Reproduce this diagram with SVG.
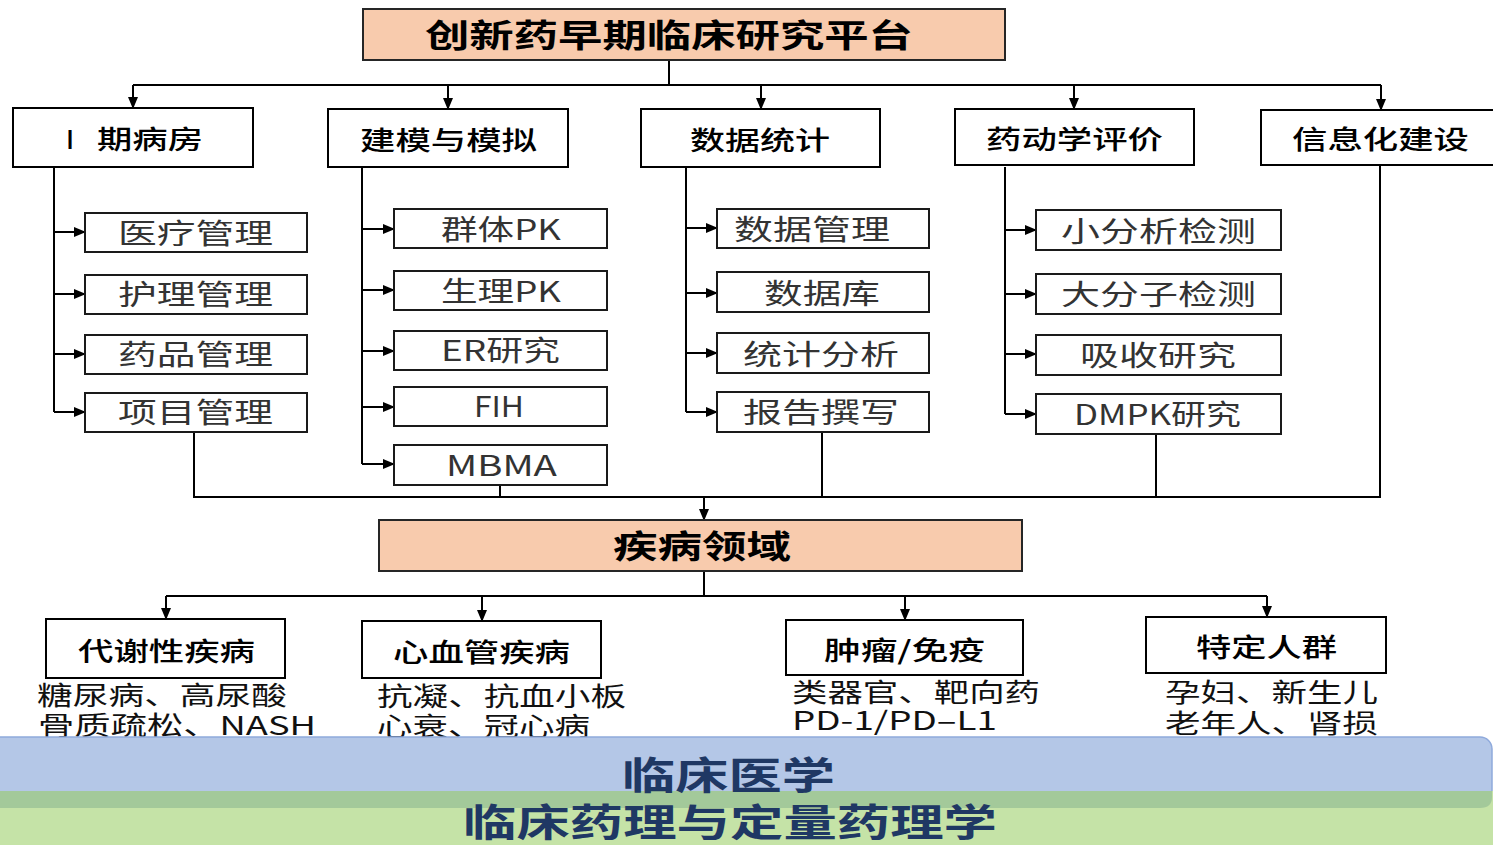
<svg xmlns="http://www.w3.org/2000/svg" width="1493" height="845" viewBox="0 0 1493 845">
<style>
  .peach{fill:#f8cbad;stroke:#262626;stroke-width:2}
  .box{fill:#fff;stroke:#000;stroke-width:2}
  .sub{fill:#fff;stroke:#1a1a1a;stroke-width:2}
  .conn{fill:none;stroke:#000;stroke-width:2}
  .arr{fill:none;stroke:#000;stroke-width:2;marker-end:url(#ah)}
  text{font-family:"Noto Sans CJK SC","Noto Sans",sans-serif;}
  .tb{font-weight:bold;font-size:32px;fill:#000}
  .t1{font-weight:500;font-size:26px;fill:#000}
  .ts{font-weight:400;font-size:28px;fill:#333}
  .td{font-weight:400;font-size:26px;fill:#111}
  .band{font-weight:bold;font-size:38px;fill:#1f3864}
</style>
<defs>
  <marker id="ah" markerUnits="userSpaceOnUse" markerWidth="12" markerHeight="12" viewBox="0 0 12 12" refX="11" refY="6" orient="auto">
    <path d="M0,1 L12,6 L0,11 Z" fill="#000"/>
  </marker>
</defs>

<g id="connectors">
  <path class="conn" d="M669,60 V85 M133,85 H1381"/>
  <path class="arr" d="M133,85 V108"/>
  <path class="arr" d="M448,85 V109"/>
  <path class="arr" d="M761,85 V109"/>
  <path class="arr" d="M1074,85 V109"/>
  <path class="arr" d="M1381,85 V110"/>

  <path class="conn" d="M54,167 V412"/>
  <path class="arr" d="M54,232 H85"/>
  <path class="arr" d="M54,294 H85"/>
  <path class="arr" d="M54,354 H85"/>
  <path class="arr" d="M54,412 H85"/>

  <path class="conn" d="M362,167 V464"/>
  <path class="arr" d="M362,229 H394"/>
  <path class="arr" d="M362,290 H394"/>
  <path class="arr" d="M362,351 H394"/>
  <path class="arr" d="M362,407 H394"/>
  <path class="arr" d="M362,464 H394"/>

  <path class="conn" d="M686,167 V412"/>
  <path class="arr" d="M686,228 H717"/>
  <path class="arr" d="M686,293 H717"/>
  <path class="arr" d="M686,353 H717"/>
  <path class="arr" d="M686,412 H717"/>

  <path class="conn" d="M1005,167 V414"/>
  <path class="arr" d="M1005,230 H1036"/>
  <path class="arr" d="M1005,294 H1036"/>
  <path class="arr" d="M1005,354 H1036"/>
  <path class="arr" d="M1005,414 H1036"/>

  <path class="conn" d="M1380,165 V497 H194 V432 M500,485 V497 M822,432 V497 M1156,434 V497"/>
  <path class="arr" d="M704,497 V520"/>

  <path class="conn" d="M704,571 V596 M166,596 H1267"/>
  <path class="arr" d="M166,596 V619"/>
  <path class="arr" d="M482,596 V621"/>
  <path class="arr" d="M905,596 V620"/>
  <path class="arr" d="M1267,596 V617"/>
</g>

<g id="title">
  <rect class="peach" x="363" y="9" width="642" height="51"/>
  <text class="tb" x="425" y="47" textLength="488" lengthAdjust="spacingAndGlyphs">创新药早期临床研究平台</text>
</g>

<g id="n-ward">
  <rect class="box" x="13" y="108" width="240" height="59"/>
  <text class="t1" y="149"><tspan x="66">I</tspan><tspan x="97" textLength="106" lengthAdjust="spacingAndGlyphs">期病房</tspan></text>
</g>
<g id="n-model">
  <rect class="box" x="328" y="109" width="240" height="58"/>
  <text class="t1" x="360" y="150" textLength="177" lengthAdjust="spacingAndGlyphs">建模与模拟</text>
</g>
<g id="n-stat">
  <rect class="box" x="641" y="109" width="239" height="58"/>
  <text class="t1" x="690" y="150" textLength="140" lengthAdjust="spacingAndGlyphs">数据统计</text>
</g>
<g id="n-pk">
  <rect class="box" x="955" y="109" width="239" height="56"/>
  <text class="t1" x="986" y="149" textLength="177" lengthAdjust="spacingAndGlyphs">药动学评价</text>
</g>
<g id="n-info">
  <rect class="box" x="1261" y="110" width="240" height="55"/>
  <text class="t1" x="1292" y="149" textLength="177" lengthAdjust="spacingAndGlyphs">信息化建设</text>
</g>

<g id="s-med"><rect class="sub" x="85" y="213" width="222" height="39"/><text class="ts" x="118" y="244" textLength="155" lengthAdjust="spacingAndGlyphs">医疗管理</text></g>
<g id="s-nurse"><rect class="sub" x="85" y="275" width="222" height="39"/><text class="ts" x="118" y="305" textLength="155" lengthAdjust="spacingAndGlyphs">护理管理</text></g>
<g id="s-drug"><rect class="sub" x="85" y="335" width="222" height="39"/><text class="ts" x="118" y="365" textLength="155" lengthAdjust="spacingAndGlyphs">药品管理</text></g>
<g id="s-proj"><rect class="sub" x="85" y="393" width="222" height="39"/><text class="ts" x="118" y="423" textLength="155" lengthAdjust="spacingAndGlyphs">项目管理</text></g>

<g id="s-poppk"><rect class="sub" x="394" y="209" width="213" height="39"/><text class="ts" x="441" y="240" textLength="120" lengthAdjust="spacingAndGlyphs">群体PK</text></g>
<g id="s-pbpk"><rect class="sub" x="394" y="271" width="213" height="39"/><text class="ts" x="441" y="302" textLength="120" lengthAdjust="spacingAndGlyphs">生理PK</text></g>
<g id="s-er"><rect class="sub" x="394" y="331" width="213" height="39"/><text class="ts" x="441" y="361" textLength="119" lengthAdjust="spacingAndGlyphs">ER研究</text></g>
<g id="s-fih"><rect class="sub" x="394" y="387" width="213" height="39"/><text class="ts" x="474" y="417" textLength="50" lengthAdjust="spacingAndGlyphs">FIH</text></g>
<g id="s-mbma"><rect class="sub" x="394" y="445" width="213" height="40"/><text class="ts" x="446" y="476" textLength="111" lengthAdjust="spacingAndGlyphs">MBMA</text></g>

<g id="s-dm"><rect class="sub" x="717" y="209" width="212" height="39"/><text class="ts" x="734" y="240" textLength="156" lengthAdjust="spacingAndGlyphs">数据管理</text></g>
<g id="s-db"><rect class="sub" x="717" y="272" width="212" height="40"/><text class="ts" x="764" y="304" textLength="116" lengthAdjust="spacingAndGlyphs">数据库</text></g>
<g id="s-sa"><rect class="sub" x="717" y="333" width="212" height="40"/><text class="ts" x="743" y="365" textLength="156" lengthAdjust="spacingAndGlyphs">统计分析</text></g>
<g id="s-rep"><rect class="sub" x="717" y="392" width="212" height="40"/><text class="ts" x="743" y="423" textLength="156" lengthAdjust="spacingAndGlyphs">报告撰写</text></g>

<g id="s-small"><rect class="sub" x="1036" y="210" width="245" height="40"/><text class="ts" x="1061" y="242" textLength="195" lengthAdjust="spacingAndGlyphs">小分析检测</text></g>
<g id="s-large"><rect class="sub" x="1036" y="274" width="245" height="40"/><text class="ts" x="1061" y="305" textLength="195" lengthAdjust="spacingAndGlyphs">大分子检测</text></g>
<g id="s-abs"><rect class="sub" x="1036" y="335" width="245" height="40"/><text class="ts" x="1080" y="366" textLength="156" lengthAdjust="spacingAndGlyphs">吸收研究</text></g>
<g id="s-dmpk"><rect class="sub" x="1036" y="394" width="245" height="40"/><text class="ts" x="1074" y="425" textLength="167" lengthAdjust="spacingAndGlyphs">DMPK研究</text></g>

<g id="disease">
  <rect class="peach" x="379" y="520" width="643" height="51"/>
  <text class="tb" x="613" y="558" textLength="178" lengthAdjust="spacingAndGlyphs">疾病领域</text>
</g>

<g id="d-metab">
  <rect class="box" x="46" y="619" width="239" height="59"/>
  <text class="t1" x="78" y="661" textLength="177" lengthAdjust="spacingAndGlyphs">代谢性疾病</text>
  <text class="td" x="37" y="705" textLength="250" lengthAdjust="spacingAndGlyphs">糖尿病、高尿酸</text>
  <text class="td" x="38" y="735" textLength="278" lengthAdjust="spacingAndGlyphs">骨质疏松、NASH</text>
</g>
<g id="d-cardio">
  <rect class="box" x="362" y="621" width="239" height="57"/>
  <text class="t1" x="393" y="662" textLength="177" lengthAdjust="spacingAndGlyphs">心血管疾病</text>
  <text class="td" x="377" y="706" textLength="249" lengthAdjust="spacingAndGlyphs">抗凝、抗血小板</text>
  <text class="td" x="377" y="736" textLength="213" lengthAdjust="spacingAndGlyphs">心衰、冠心病</text>
</g>
<g id="d-onco">
  <rect class="box" x="786" y="620" width="237" height="55"/>
  <text class="t1" x="824" y="660" textLength="161" lengthAdjust="spacingAndGlyphs">肿瘤/免疫</text>
  <text class="td" x="792" y="702" textLength="248" lengthAdjust="spacingAndGlyphs">类器官、靶向药</text>
  <text class="td" x="792" y="730" textLength="205" lengthAdjust="spacingAndGlyphs">PD-1/PD–L1</text>
</g>
<g id="d-special">
  <rect class="box" x="1146" y="617" width="240" height="56"/>
  <text class="t1" x="1196" y="657" textLength="141" lengthAdjust="spacingAndGlyphs">特定人群</text>
  <text class="td" x="1165" y="702" textLength="213" lengthAdjust="spacingAndGlyphs">孕妇、新生儿</text>
  <text class="td" x="1165" y="733" textLength="213" lengthAdjust="spacingAndGlyphs">老年人、肾损</text>
</g>

<g id="band-clinical">
  <rect x="-20" y="737" width="1512" height="71" rx="12" fill="#b4c7e7" stroke="#8faadc" stroke-width="1.5"/>
</g>
<g id="band-pharm">
  <rect x="-20" y="791" width="1530" height="60" fill="#c5e3a7"/>
  <path d="M-20,791 H1492 V797 Q1492,808 1480,808 H-20 Z" fill="#a3c99a"/>
  <text class="band" x="463" y="836" textLength="534" lengthAdjust="spacingAndGlyphs">临床药理与定量药理学</text>
</g>
<g id="band-clinical-label">
  <text class="band" x="622" y="789" textLength="213" lengthAdjust="spacingAndGlyphs">临床医学</text>
</g>
</svg>
